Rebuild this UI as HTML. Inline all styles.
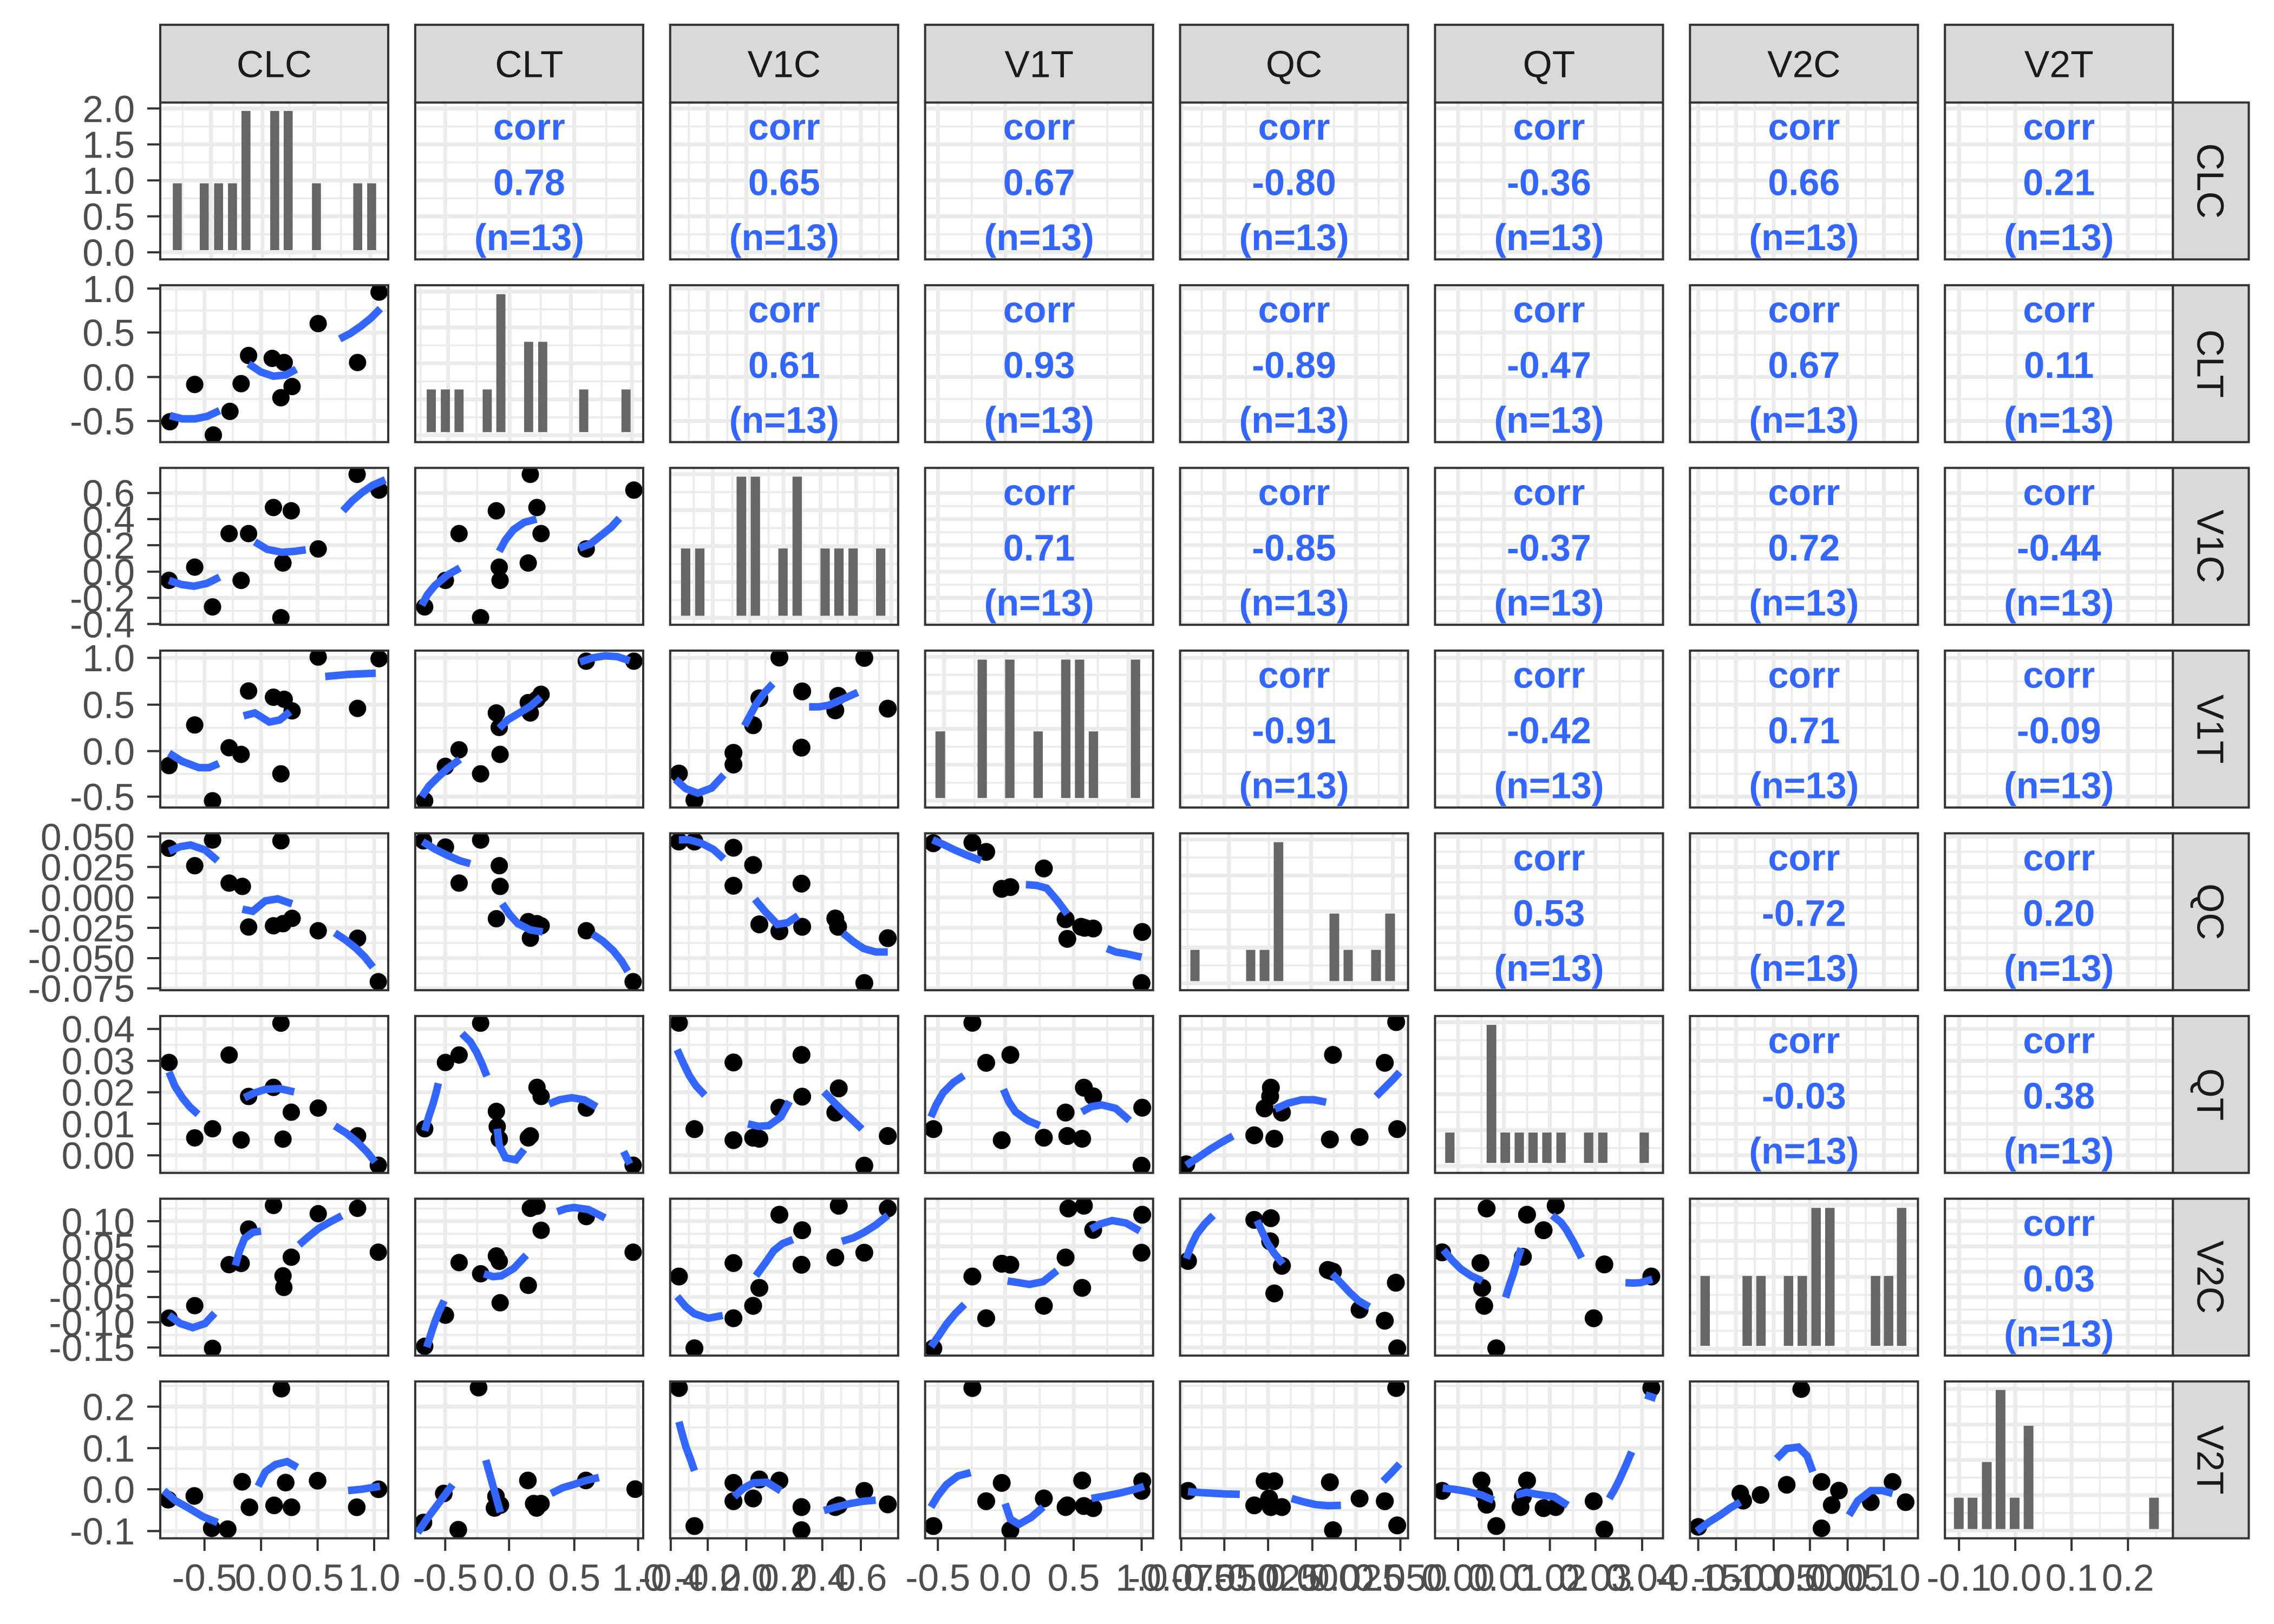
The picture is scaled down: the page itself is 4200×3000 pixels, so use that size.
<!DOCTYPE html>
<html><head><meta charset="utf-8"><style>
html,body{margin:0;padding:0;background:#fff}
svg{display:block}
.M{stroke:#EBEBEB;stroke-width:2.7}
.m{stroke:#EBEBEB;stroke-width:1.4}
text{font-family:"Liberation Sans",Arial,sans-serif}
.tl{font-size:26px;fill:#4D4D4D}
.st{font-size:26px;fill:#1A1A1A}
.cr{font-size:25.5px;font-weight:bold;fill:#3366FF;text-anchor:middle}
.pb{fill:none;stroke:#333;stroke-width:1.5}
.sp{fill:#D9D9D9;stroke:#333;stroke-width:1.5}
.tk{stroke:#333;stroke-width:1.5}
.bar{fill:#666}
</style></head><body>
<svg xmlns="http://www.w3.org/2000/svg" width="4200" height="3000" viewBox="0 0 1568 1120">
<rect width="1568" height="1120" fill="#fff"/>
<defs>
<clipPath id="p21"><rect x="110.5" y="196.7" width="157.2" height="108.2"/></clipPath>
<clipPath id="p31"><rect x="110.5" y="322.7" width="157.2" height="108.2"/></clipPath>
<clipPath id="p32"><rect x="286.3" y="322.7" width="157.2" height="108.2"/></clipPath>
<clipPath id="p41"><rect x="110.5" y="448.7" width="157.2" height="108.2"/></clipPath>
<clipPath id="p42"><rect x="286.3" y="448.7" width="157.2" height="108.2"/></clipPath>
<clipPath id="p43"><rect x="462.1" y="448.7" width="157.2" height="108.2"/></clipPath>
<clipPath id="p51"><rect x="110.5" y="574.7" width="157.2" height="108.2"/></clipPath>
<clipPath id="p52"><rect x="286.3" y="574.7" width="157.2" height="108.2"/></clipPath>
<clipPath id="p53"><rect x="462.1" y="574.7" width="157.2" height="108.2"/></clipPath>
<clipPath id="p54"><rect x="637.9" y="574.7" width="157.2" height="108.2"/></clipPath>
<clipPath id="p61"><rect x="110.5" y="700.7" width="157.2" height="108.2"/></clipPath>
<clipPath id="p62"><rect x="286.3" y="700.7" width="157.2" height="108.2"/></clipPath>
<clipPath id="p63"><rect x="462.1" y="700.7" width="157.2" height="108.2"/></clipPath>
<clipPath id="p64"><rect x="637.9" y="700.7" width="157.2" height="108.2"/></clipPath>
<clipPath id="p65"><rect x="813.7" y="700.7" width="157.2" height="108.2"/></clipPath>
<clipPath id="p71"><rect x="110.5" y="826.7" width="157.2" height="108.2"/></clipPath>
<clipPath id="p72"><rect x="286.3" y="826.7" width="157.2" height="108.2"/></clipPath>
<clipPath id="p73"><rect x="462.1" y="826.7" width="157.2" height="108.2"/></clipPath>
<clipPath id="p74"><rect x="637.9" y="826.7" width="157.2" height="108.2"/></clipPath>
<clipPath id="p75"><rect x="813.7" y="826.7" width="157.2" height="108.2"/></clipPath>
<clipPath id="p76"><rect x="989.5" y="826.7" width="157.2" height="108.2"/></clipPath>
<clipPath id="p81"><rect x="110.5" y="952.7" width="157.2" height="108.2"/></clipPath>
<clipPath id="p82"><rect x="286.3" y="952.7" width="157.2" height="108.2"/></clipPath>
<clipPath id="p83"><rect x="462.1" y="952.7" width="157.2" height="108.2"/></clipPath>
<clipPath id="p84"><rect x="637.9" y="952.7" width="157.2" height="108.2"/></clipPath>
<clipPath id="p85"><rect x="813.7" y="952.7" width="157.2" height="108.2"/></clipPath>
<clipPath id="p86"><rect x="989.5" y="952.7" width="157.2" height="108.2"/></clipPath>
<clipPath id="p87"><rect x="1165.3" y="952.7" width="157.2" height="108.2"/></clipPath>
</defs>

<!-- vertical grid lines per column -->
<g>
<g class="m">
<line x1="121.5" y1="70.7" x2="121.5" y2="1061"/><line x1="160.5" y1="70.7" x2="160.5" y2="1061"/><line x1="199.5" y1="70.7" x2="199.5" y2="1061"/><line x1="238.5" y1="70.7" x2="238.5" y2="1061"/>
<line x1="329" y1="70.7" x2="329" y2="1061"/><line x1="373.5" y1="70.7" x2="373.5" y2="1061"/><line x1="418" y1="70.7" x2="418" y2="1061"/>
<line x1="475" y1="70.7" x2="475" y2="1061"/><line x1="501.5" y1="70.7" x2="501.5" y2="1061"/><line x1="527.7" y1="70.7" x2="527.7" y2="1061"/><line x1="553.9" y1="70.7" x2="553.9" y2="1061"/><line x1="580" y1="70.7" x2="580" y2="1061"/><line x1="606.2" y1="70.7" x2="606.2" y2="1061"/>
<line x1="670" y1="70.7" x2="670" y2="1061"/><line x1="717" y1="70.7" x2="717" y2="1061"/><line x1="763.5" y1="70.7" x2="763.5" y2="1061"/>
<line x1="828.7" y1="70.7" x2="828.7" y2="1061"/><line x1="859.2" y1="70.7" x2="859.2" y2="1061"/><line x1="890" y1="70.7" x2="890" y2="1061"/><line x1="919.8" y1="70.7" x2="919.8" y2="1061"/><line x1="950.6" y1="70.7" x2="950.6" y2="1061"/>
<line x1="1021.5" y1="70.7" x2="1021.5" y2="1061"/><line x1="1053" y1="70.7" x2="1053" y2="1061"/><line x1="1084.6" y1="70.7" x2="1084.6" y2="1061"/><line x1="1116.8" y1="70.7" x2="1116.8" y2="1061"/>
<line x1="1184" y1="70.7" x2="1184" y2="1061"/><line x1="1210" y1="70.7" x2="1210" y2="1061"/><line x1="1235.5" y1="70.7" x2="1235.5" y2="1061"/><line x1="1261" y1="70.7" x2="1261" y2="1061"/><line x1="1286.5" y1="70.7" x2="1286.5" y2="1061"/><line x1="1311.8" y1="70.7" x2="1311.8" y2="1061"/>
<line x1="1370.2" y1="70.7" x2="1370.2" y2="1061"/><line x1="1409" y1="70.7" x2="1409" y2="1061"/><line x1="1447.9" y1="70.7" x2="1447.9" y2="1061"/><line x1="1486.7" y1="70.7" x2="1486.7" y2="1061"/>
</g>
<g class="M">
<line x1="141" y1="70.7" x2="141" y2="1061"/><line x1="180" y1="70.7" x2="180" y2="1061"/><line x1="219" y1="70.7" x2="219" y2="1061"/><line x1="258" y1="70.7" x2="258" y2="1061"/>
<line x1="307" y1="70.7" x2="307" y2="1061"/><line x1="351" y1="70.7" x2="351" y2="1061"/><line x1="396" y1="70.7" x2="396" y2="1061"/><line x1="440" y1="70.7" x2="440" y2="1061"/>
<line x1="462.5" y1="70.7" x2="462.5" y2="1061"/><line x1="488" y1="70.7" x2="488" y2="1061"/><line x1="514.6" y1="70.7" x2="514.6" y2="1061"/><line x1="540.8" y1="70.7" x2="540.8" y2="1061"/><line x1="567" y1="70.7" x2="567" y2="1061"/><line x1="593.6" y1="70.7" x2="593.6" y2="1061"/>
<line x1="646.7" y1="70.7" x2="646.7" y2="1061"/><line x1="693.1" y1="70.7" x2="693.1" y2="1061"/><line x1="740.3" y1="70.7" x2="740.3" y2="1061"/><line x1="787.2" y1="70.7" x2="787.2" y2="1061"/>
<line x1="814.5" y1="70.7" x2="814.5" y2="1061"/><line x1="844.2" y1="70.7" x2="844.2" y2="1061"/><line x1="874.4" y1="70.7" x2="874.4" y2="1061"/><line x1="904.9" y1="70.7" x2="904.9" y2="1061"/><line x1="934.9" y1="70.7" x2="934.9" y2="1061"/><line x1="965.6" y1="70.7" x2="965.6" y2="1061"/>
<line x1="1005.4" y1="70.7" x2="1005.4" y2="1061"/><line x1="1037" y1="70.7" x2="1037" y2="1061"/><line x1="1068.7" y1="70.7" x2="1068.7" y2="1061"/><line x1="1100.1" y1="70.7" x2="1100.1" y2="1061"/><line x1="1132.3" y1="70.7" x2="1132.3" y2="1061"/>
<line x1="1171" y1="70.7" x2="1171" y2="1061"/><line x1="1197" y1="70.7" x2="1197" y2="1061"/><line x1="1223" y1="70.7" x2="1223" y2="1061"/><line x1="1248" y1="70.7" x2="1248" y2="1061"/><line x1="1274" y1="70.7" x2="1274" y2="1061"/><line x1="1299" y1="70.7" x2="1299" y2="1061"/>
<line x1="1350.8" y1="70.7" x2="1350.8" y2="1061"/><line x1="1389.6" y1="70.7" x2="1389.6" y2="1061"/><line x1="1428.4" y1="70.7" x2="1428.4" y2="1061"/><line x1="1467.3" y1="70.7" x2="1467.3" y2="1061"/>
</g>
<!-- horizontal grid lines per row -->
<g class="m">
<line x1="110.5" y1="87.2" x2="1498.3" y2="87.2"/><line x1="110.5" y1="112" x2="1498.3" y2="112"/><line x1="110.5" y1="136.8" x2="1498.3" y2="136.8"/><line x1="110.5" y1="161.6" x2="1498.3" y2="161.6"/>
<line x1="110.5" y1="214.2" x2="1498.3" y2="214.2"/><line x1="110.5" y1="244.7" x2="1498.3" y2="244.7"/><line x1="110.5" y1="275.2" x2="1498.3" y2="275.2"/>
<line x1="110.5" y1="349" x2="1498.3" y2="349"/><line x1="110.5" y1="367" x2="1498.3" y2="367"/><line x1="110.5" y1="385" x2="1498.3" y2="385"/><line x1="110.5" y1="403.3" x2="1498.3" y2="403.3"/><line x1="110.5" y1="421.3" x2="1498.3" y2="421.3"/>
<line x1="110.5" y1="469.9" x2="1498.3" y2="469.9"/><line x1="110.5" y1="502" x2="1498.3" y2="502"/><line x1="110.5" y1="533.7" x2="1498.3" y2="533.7"/>
<line x1="110.5" y1="587.5" x2="1498.3" y2="587.5"/><line x1="110.5" y1="608.5" x2="1498.3" y2="608.5"/><line x1="110.5" y1="629.5" x2="1498.3" y2="629.5"/><line x1="110.5" y1="650.4" x2="1498.3" y2="650.4"/><line x1="110.5" y1="671.2" x2="1498.3" y2="671.2"/>
<line x1="110.5" y1="720.6" x2="1498.3" y2="720.6"/><line x1="110.5" y1="742.5" x2="1498.3" y2="742.5"/><line x1="110.5" y1="764.2" x2="1498.3" y2="764.2"/><line x1="110.5" y1="785.9" x2="1498.3" y2="785.9"/><line x1="110.5" y1="807.4" x2="1498.3" y2="807.4"/>
<line x1="110.5" y1="833.5" x2="1498.3" y2="833.5"/><line x1="110.5" y1="850.9" x2="1498.3" y2="850.9"/><line x1="110.5" y1="868.3" x2="1498.3" y2="868.3"/><line x1="110.5" y1="885.8" x2="1498.3" y2="885.8"/><line x1="110.5" y1="903.2" x2="1498.3" y2="903.2"/><line x1="110.5" y1="920.6" x2="1498.3" y2="920.6"/>
<line x1="110.5" y1="955.8" x2="1498.3" y2="955.8"/><line x1="110.5" y1="984.4" x2="1498.3" y2="984.4"/><line x1="110.5" y1="1012.9" x2="1498.3" y2="1012.9"/><line x1="110.5" y1="1041.5" x2="1498.3" y2="1041.5"/>
</g>
<g class="M">
<line x1="110.5" y1="74.8" x2="1498.3" y2="74.8"/><line x1="110.5" y1="99.6" x2="1498.3" y2="99.6"/><line x1="110.5" y1="124.4" x2="1498.3" y2="124.4"/><line x1="110.5" y1="149.2" x2="1498.3" y2="149.2"/><line x1="110.5" y1="174" x2="1498.3" y2="174"/>
<line x1="110.5" y1="199" x2="1498.3" y2="199"/><line x1="110.5" y1="229.3" x2="1498.3" y2="229.3"/><line x1="110.5" y1="260" x2="1498.3" y2="260"/><line x1="110.5" y1="290.3" x2="1498.3" y2="290.3"/>
<line x1="110.5" y1="340" x2="1498.3" y2="340"/><line x1="110.5" y1="358" x2="1498.3" y2="358"/><line x1="110.5" y1="376" x2="1498.3" y2="376"/><line x1="110.5" y1="394.3" x2="1498.3" y2="394.3"/><line x1="110.5" y1="412.3" x2="1498.3" y2="412.3"/><line x1="110.5" y1="430.3" x2="1498.3" y2="430.3"/>
<line x1="110.5" y1="453.7" x2="1498.3" y2="453.7"/><line x1="110.5" y1="486" x2="1498.3" y2="486"/><line x1="110.5" y1="518" x2="1498.3" y2="518"/><line x1="110.5" y1="549.4" x2="1498.3" y2="549.4"/>
<line x1="110.5" y1="577" x2="1498.3" y2="577"/><line x1="110.5" y1="597.9" x2="1498.3" y2="597.9"/><line x1="110.5" y1="619" x2="1498.3" y2="619"/><line x1="110.5" y1="639.9" x2="1498.3" y2="639.9"/><line x1="110.5" y1="660.8" x2="1498.3" y2="660.8"/><line x1="110.5" y1="681.6" x2="1498.3" y2="681.6"/>
<line x1="110.5" y1="709.6" x2="1498.3" y2="709.6"/><line x1="110.5" y1="731.6" x2="1498.3" y2="731.6"/><line x1="110.5" y1="753.3" x2="1498.3" y2="753.3"/><line x1="110.5" y1="775" x2="1498.3" y2="775"/><line x1="110.5" y1="796.8" x2="1498.3" y2="796.8"/>
<line x1="110.5" y1="842.2" x2="1498.3" y2="842.2"/><line x1="110.5" y1="859.6" x2="1498.3" y2="859.6"/><line x1="110.5" y1="877" x2="1498.3" y2="877"/><line x1="110.5" y1="894.5" x2="1498.3" y2="894.5"/><line x1="110.5" y1="911.9" x2="1498.3" y2="911.9"/><line x1="110.5" y1="929.3" x2="1498.3" y2="929.3"/>
<line x1="110.5" y1="970.1" x2="1498.3" y2="970.1"/><line x1="110.5" y1="998.7" x2="1498.3" y2="998.7"/><line x1="110.5" y1="1027.1" x2="1498.3" y2="1027.1"/><line x1="110.5" y1="1055.9" x2="1498.3" y2="1055.9"/>
</g>
</g>

<!-- gaps -->
<g fill="#fff">
<rect x="267.7" y="60" width="18.6" height="1010"/><rect x="443.5" y="60" width="18.6" height="1010"/><rect x="619.3" y="60" width="18.6" height="1010"/><rect x="795.1" y="60" width="18.6" height="1010"/><rect x="970.9" y="60" width="18.6" height="1010"/><rect x="1146.7" y="60" width="18.6" height="1010"/><rect x="1322.5" y="60" width="18.6" height="1010"/>
<rect x="100" y="178.9" width="1410" height="17.8"/><rect x="100" y="304.9" width="1410" height="17.8"/><rect x="100" y="430.9" width="1410" height="17.8"/><rect x="100" y="556.9" width="1410" height="17.8"/><rect x="100" y="682.9" width="1410" height="17.8"/><rect x="100" y="808.9" width="1410" height="17.8"/><rect x="100" y="934.9" width="1410" height="17.8"/>
</g>

<!-- histogram panel overlays -->
<g>
<!-- H1 -->
<rect x="110.5" y="70.7" width="157.2" height="108.2" fill="#fff"/>
<g class="m"><line x1="126" y1="70.7" x2="126" y2="178.9"/><line x1="161" y1="70.7" x2="161" y2="178.9"/><line x1="199.6" y1="70.7" x2="199.6" y2="178.9"/><line x1="235.2" y1="70.7" x2="235.2" y2="178.9"/>
<line x1="110.5" y1="87.2" x2="267.7" y2="87.2"/><line x1="110.5" y1="112" x2="267.7" y2="112"/><line x1="110.5" y1="136.8" x2="267.7" y2="136.8"/><line x1="110.5" y1="161.6" x2="267.7" y2="161.6"/></g>
<g class="M"><line x1="145.5" y1="70.7" x2="145.5" y2="178.9"/><line x1="181" y1="70.7" x2="181" y2="178.9"/><line x1="216.7" y1="70.7" x2="216.7" y2="178.9"/><line x1="255.3" y1="70.7" x2="255.3" y2="178.9"/>
<line x1="110.5" y1="74.8" x2="267.7" y2="74.8"/><line x1="110.5" y1="99.6" x2="267.7" y2="99.6"/><line x1="110.5" y1="124.4" x2="267.7" y2="124.4"/><line x1="110.5" y1="149.2" x2="267.7" y2="149.2"/><line x1="110.5" y1="174" x2="267.7" y2="174"/></g>
<!-- H2 -->
<rect x="286.3" y="196.7" width="157.2" height="108.2" fill="#fff"/>
<g class="m"><line x1="290" y1="196.7" x2="290" y2="304.9"/><line x1="328.5" y1="196.7" x2="328.5" y2="304.9"/><line x1="372.8" y1="196.7" x2="372.8" y2="304.9"/><line x1="414.8" y1="196.7" x2="414.8" y2="304.9"/>
<line x1="286.3" y1="213.4" x2="443.5" y2="213.4"/><line x1="286.3" y1="238.2" x2="443.5" y2="238.2"/><line x1="286.3" y1="263" x2="443.5" y2="263"/><line x1="286.3" y1="287.8" x2="443.5" y2="287.8"/></g>
<g class="M"><line x1="309" y1="196.7" x2="309" y2="304.9"/><line x1="351.4" y1="196.7" x2="351.4" y2="304.9"/><line x1="393.7" y1="196.7" x2="393.7" y2="304.9"/><line x1="435.7" y1="196.7" x2="435.7" y2="304.9"/>
<line x1="286.3" y1="201" x2="443.5" y2="201"/><line x1="286.3" y1="225.8" x2="443.5" y2="225.8"/><line x1="286.3" y1="250.6" x2="443.5" y2="250.6"/><line x1="286.3" y1="275.4" x2="443.5" y2="275.4"/><line x1="286.3" y1="300.2" x2="443.5" y2="300.2"/></g>
<!-- H3 -->
<rect x="462.1" y="322.7" width="157.2" height="108.2" fill="#fff"/>
<g class="m"><line x1="478.4" y1="322.7" x2="478.4" y2="430.9"/><line x1="505" y1="322.7" x2="505" y2="430.9"/><line x1="530" y1="322.7" x2="530" y2="430.9"/><line x1="552.7" y1="322.7" x2="552.7" y2="430.9"/><line x1="577.7" y1="322.7" x2="577.7" y2="430.9"/><line x1="602.7" y1="322.7" x2="602.7" y2="430.9"/>
<line x1="462.1" y1="339.4" x2="619.3" y2="339.4"/><line x1="462.1" y1="364.2" x2="619.3" y2="364.2"/><line x1="462.1" y1="389" x2="619.3" y2="389"/><line x1="462.1" y1="413.8" x2="619.3" y2="413.8"/></g>
<g class="M"><line x1="491.5" y1="322.7" x2="491.5" y2="430.9"/><line x1="517" y1="322.7" x2="517" y2="430.9"/><line x1="540.3" y1="322.7" x2="540.3" y2="430.9"/><line x1="565.8" y1="322.7" x2="565.8" y2="430.9"/><line x1="590.3" y1="322.7" x2="590.3" y2="430.9"/><line x1="614.6" y1="322.7" x2="614.6" y2="430.9"/>
<line x1="462.1" y1="327" x2="619.3" y2="327"/><line x1="462.1" y1="351.8" x2="619.3" y2="351.8"/><line x1="462.1" y1="376.6" x2="619.3" y2="376.6"/><line x1="462.1" y1="401.4" x2="619.3" y2="401.4"/><line x1="462.1" y1="426.2" x2="619.3" y2="426.2"/></g>
<!-- H4 -->
<rect x="637.9" y="448.7" width="157.2" height="108.2" fill="#fff"/>
<g class="m"><line x1="672" y1="448.7" x2="672" y2="556.9"/><line x1="715" y1="448.7" x2="715" y2="556.9"/><line x1="757" y1="448.7" x2="757" y2="556.9"/>
<line x1="637.9" y1="465.4" x2="795.1" y2="465.4"/><line x1="637.9" y1="490.2" x2="795.1" y2="490.2"/><line x1="637.9" y1="515" x2="795.1" y2="515"/><line x1="637.9" y1="539.8" x2="795.1" y2="539.8"/></g>
<g class="M"><line x1="651" y1="448.7" x2="651" y2="556.9"/><line x1="693.5" y1="448.7" x2="693.5" y2="556.9"/><line x1="736" y1="448.7" x2="736" y2="556.9"/><line x1="778" y1="448.7" x2="778" y2="556.9"/>
<line x1="637.9" y1="453" x2="795.1" y2="453"/><line x1="637.9" y1="477.8" x2="795.1" y2="477.8"/><line x1="637.9" y1="502.6" x2="795.1" y2="502.6"/><line x1="637.9" y1="527.4" x2="795.1" y2="527.4"/><line x1="637.9" y1="552.2" x2="795.1" y2="552.2"/></g>
<!-- H5 -->
<rect x="813.7" y="574.7" width="157.2" height="108.2" fill="#fff"/>
<g class="m"><line x1="818.9" y1="574.7" x2="818.9" y2="682.9"/><line x1="875" y1="574.7" x2="875" y2="682.9"/><line x1="932.3" y1="574.7" x2="932.3" y2="682.9"/>
<line x1="813.7" y1="591.4" x2="970.9" y2="591.4"/><line x1="813.7" y1="616.2" x2="970.9" y2="616.2"/><line x1="813.7" y1="641" x2="970.9" y2="641"/><line x1="813.7" y1="665.8" x2="970.9" y2="665.8"/></g>
<g class="M"><line x1="847.4" y1="574.7" x2="847.4" y2="682.9"/><line x1="904" y1="574.7" x2="904" y2="682.9"/><line x1="960.4" y1="574.7" x2="960.4" y2="682.9"/>
<line x1="813.7" y1="579" x2="970.9" y2="579"/><line x1="813.7" y1="603.8" x2="970.9" y2="603.8"/><line x1="813.7" y1="628.6" x2="970.9" y2="628.6"/><line x1="813.7" y1="653.4" x2="970.9" y2="653.4"/><line x1="813.7" y1="678.2" x2="970.9" y2="678.2"/></g>
<!-- H6 -->
<rect x="989.5" y="700.7" width="157.2" height="108.2" fill="#fff"/>
<g class="m"><line x1="1021.5" y1="700.7" x2="1021.5" y2="808.9"/><line x1="1053" y1="700.7" x2="1053" y2="808.9"/><line x1="1084.6" y1="700.7" x2="1084.6" y2="808.9"/><line x1="1116.8" y1="700.7" x2="1116.8" y2="808.9"/>
<line x1="989.5" y1="717.4" x2="1146.7" y2="717.4"/><line x1="989.5" y1="742.2" x2="1146.7" y2="742.2"/><line x1="989.5" y1="767" x2="1146.7" y2="767"/><line x1="989.5" y1="791.8" x2="1146.7" y2="791.8"/></g>
<g class="M"><line x1="1005.4" y1="700.7" x2="1005.4" y2="808.9"/><line x1="1037" y1="700.7" x2="1037" y2="808.9"/><line x1="1068.7" y1="700.7" x2="1068.7" y2="808.9"/><line x1="1100.1" y1="700.7" x2="1100.1" y2="808.9"/><line x1="1132.3" y1="700.7" x2="1132.3" y2="808.9"/>
<line x1="989.5" y1="705" x2="1146.7" y2="705"/><line x1="989.5" y1="729.8" x2="1146.7" y2="729.8"/><line x1="989.5" y1="754.6" x2="1146.7" y2="754.6"/><line x1="989.5" y1="779.4" x2="1146.7" y2="779.4"/><line x1="989.5" y1="804.2" x2="1146.7" y2="804.2"/></g>
<!-- H7 -->
<rect x="1165.3" y="826.7" width="157.2" height="108.2" fill="#fff"/>
<g class="m"><line x1="1184" y1="826.7" x2="1184" y2="934.9"/><line x1="1210" y1="826.7" x2="1210" y2="934.9"/><line x1="1235.5" y1="826.7" x2="1235.5" y2="934.9"/><line x1="1261" y1="826.7" x2="1261" y2="934.9"/><line x1="1286.5" y1="826.7" x2="1286.5" y2="934.9"/><line x1="1311.8" y1="826.7" x2="1311.8" y2="934.9"/>
<line x1="1165.3" y1="843.4" x2="1322.5" y2="843.4"/><line x1="1165.3" y1="868.2" x2="1322.5" y2="868.2"/><line x1="1165.3" y1="893" x2="1322.5" y2="893"/><line x1="1165.3" y1="917.8" x2="1322.5" y2="917.8"/></g>
<g class="M"><line x1="1171" y1="826.7" x2="1171" y2="934.9"/><line x1="1197" y1="826.7" x2="1197" y2="934.9"/><line x1="1223" y1="826.7" x2="1223" y2="934.9"/><line x1="1248" y1="826.7" x2="1248" y2="934.9"/><line x1="1274" y1="826.7" x2="1274" y2="934.9"/><line x1="1299" y1="826.7" x2="1299" y2="934.9"/>
<line x1="1165.3" y1="831" x2="1322.5" y2="831"/><line x1="1165.3" y1="855.8" x2="1322.5" y2="855.8"/><line x1="1165.3" y1="880.6" x2="1322.5" y2="880.6"/><line x1="1165.3" y1="905.4" x2="1322.5" y2="905.4"/><line x1="1165.3" y1="930.2" x2="1322.5" y2="930.2"/></g>
<!-- H8 -->
<rect x="1341.1" y="952.7" width="157.2" height="108.2" fill="#fff"/>
<g class="m"><line x1="1370.2" y1="952.7" x2="1370.2" y2="1060.9"/><line x1="1409" y1="952.7" x2="1409" y2="1060.9"/><line x1="1447.9" y1="952.7" x2="1447.9" y2="1060.9"/><line x1="1486.7" y1="952.7" x2="1486.7" y2="1060.9"/>
<line x1="1341.1" y1="970" x2="1498.3" y2="970"/><line x1="1341.1" y1="994.6" x2="1498.3" y2="994.6"/><line x1="1341.1" y1="1019" x2="1498.3" y2="1019"/><line x1="1341.1" y1="1043.4" x2="1498.3" y2="1043.4"/></g>
<g class="M"><line x1="1350.8" y1="952.7" x2="1350.8" y2="1060.9"/><line x1="1389.6" y1="952.7" x2="1389.6" y2="1060.9"/><line x1="1428.4" y1="952.7" x2="1428.4" y2="1060.9"/><line x1="1467.3" y1="952.7" x2="1467.3" y2="1060.9"/>
<line x1="1341.1" y1="957.9" x2="1498.3" y2="957.9"/><line x1="1341.1" y1="982.4" x2="1498.3" y2="982.4"/><line x1="1341.1" y1="1006.8" x2="1498.3" y2="1006.8"/><line x1="1341.1" y1="1031.1" x2="1498.3" y2="1031.1"/><line x1="1341.1" y1="1055.5" x2="1498.3" y2="1055.5"/></g>
</g>

<!-- histogram bars -->
<g class="bar">
<g transform="scale(0.30950,0.21427)">
<rect x="385" y="590" width="20" height="215"/><rect x="445" y="590" width="20" height="215"/><rect x="477" y="590" width="20" height="215"/><rect x="508" y="590" width="20" height="215"/><rect x="538" y="357" width="20" height="448"/><rect x="602" y="357" width="20" height="448"/><rect x="632" y="357" width="20" height="448"/><rect x="695" y="590" width="20" height="215"/><rect x="787" y="590" width="20" height="215"/><rect x="818" y="590" width="20" height="215"/>
</g>
<g transform="translate(0,186.6) scale(0.28567)">
<rect x="1030" y="287" width="22" height="103"/><rect x="1064" y="287" width="22" height="103"/><rect x="1097" y="287" width="22" height="103"/><rect x="1165" y="287" width="22" height="103"/><rect x="1198" y="57" width="22" height="333"/><rect x="1265" y="172" width="22" height="218"/><rect x="1299" y="172" width="22" height="218"/><rect x="1398" y="287" width="22" height="103"/><rect x="1500" y="287" width="22" height="103"/>
</g>
<g transform="translate(447.9,317.3) scale(0.23806)">
<rect x="91" y="256" width="27" height="195"/><rect x="132" y="256" width="27" height="195"/><rect x="252" y="48" width="28" height="403"/><rect x="293" y="48" width="27" height="403"/><rect x="373" y="256" width="27" height="195"/><rect x="414" y="48" width="27" height="403"/><rect x="495" y="256" width="27" height="195"/><rect x="535" y="256" width="27" height="195"/><rect x="576" y="256" width="27" height="195"/><rect x="656" y="256" width="27" height="195"/>
<rect x="828" y="786" width="28" height="193"/><rect x="950" y="578" width="27" height="401"/><rect x="1030" y="578" width="27" height="401"/><rect x="1112" y="786" width="27" height="193"/><rect x="1192" y="578" width="27" height="401"/><rect x="1232" y="578" width="27" height="401"/><rect x="1272" y="786" width="27" height="193"/><rect x="1394" y="578" width="27" height="401"/>
</g>
<g transform="translate(802.5,559.9) scale(0.12442)">
<rect x="147" y="765" width="51" height="173"/><rect x="456" y="765" width="51" height="173"/><rect x="531" y="765" width="54" height="173"/><rect x="609" y="168" width="53" height="770"/><rect x="918" y="564" width="54" height="374"/><rect x="996" y="765" width="51" height="173"/><rect x="1149" y="765" width="54" height="173"/><rect x="1227" y="564" width="54" height="374"/>
</g>
<g transform="translate(802.5,690.6) scale(0.23806)">
<rect x="815" y="380" width="27" height="88"/><rect x="935" y="68" width="28" height="400"/><rect x="975" y="380" width="28" height="88"/><rect x="1016" y="380" width="27" height="88"/><rect x="1056" y="380" width="27" height="88"/><rect x="1096" y="380" width="27" height="88"/><rect x="1137" y="380" width="27" height="88"/><rect x="1217" y="380" width="27" height="88"/><rect x="1258" y="380" width="27" height="88"/><rect x="1378" y="380" width="27" height="88"/>
</g>
<rect x="1172.5" y="880" width="6.5" height="48.2"/><rect x="1201.5" y="880" width="6.5" height="48.2"/><rect x="1211" y="880" width="6.5" height="48.2"/><rect x="1230" y="880" width="6.5" height="48.2"/><rect x="1239.5" y="880" width="6.5" height="48.2"/><rect x="1249" y="833" width="6.5" height="95.2"/><rect x="1258.5" y="833" width="6.5" height="95.2"/><rect x="1290" y="880" width="6.5" height="48.2"/><rect x="1299" y="880" width="6.5" height="48.2"/><rect x="1308" y="833" width="6.5" height="95.2"/>
<rect x="1347.3" y="1032.9" width="6.7" height="21.6"/><rect x="1356.8" y="1032.9" width="6.7" height="21.6"/><rect x="1366.6" y="1008.3" width="6.7" height="46.2"/><rect x="1376.1" y="958.6" width="6.7" height="95.9"/><rect x="1385.8" y="1032.9" width="6.7" height="21.6"/><rect x="1395.4" y="983.3" width="6.7" height="71.2"/><rect x="1481.9" y="1032.9" width="6.7" height="21.6"/>
</g>

<!-- scatter panels: zoom3 coords -->
<g fill="#000">
<g clip-path="url(#p21)"><g transform="translate(0,186.6) scale(0.28567)">
<circle cx="410" cy="365" r="21"/><circle cx="470" cy="275" r="21"/><circle cx="515" cy="397" r="21"/><circle cx="555" cy="340" r="21"/><circle cx="582" cy="273" r="21"/><circle cx="600" cy="205" r="21"/><circle cx="657" cy="212" r="21"/><circle cx="686" cy="222" r="21"/><circle cx="705" cy="280" r="21"/><circle cx="678" cy="307" r="21"/><circle cx="768" cy="128" r="21"/><circle cx="863" cy="222" r="21"/><circle cx="915" cy="52" r="21"/>
<g fill="none" stroke="#3366FF" stroke-width="18.2"><polyline points="410,350 440,358 470,358 500,352 530,338"/><polyline points="600,225 630,245 660,255 690,252 715,238"/><polyline points="820,165 845,152 870,135 895,115 918,92"/></g>
</g></g>
<g clip-path="url(#p31)"><g transform="translate(0,186.6) scale(0.28567)">
<circle cx="408" cy="748" r="21"/><circle cx="470" cy="716" r="21"/><circle cx="513" cy="812" r="21"/><circle cx="553" cy="635" r="21"/><circle cx="582" cy="748" r="21"/><circle cx="600" cy="635" r="21"/><circle cx="660" cy="572" r="21"/><circle cx="703" cy="580" r="21"/><circle cx="683" cy="706" r="21"/><circle cx="678" cy="838" r="21"/><circle cx="768" cy="672" r="21"/><circle cx="862" cy="492" r="21"/><circle cx="915" cy="530" r="21"/>
<g fill="none" stroke="#3366FF" stroke-width="18.2"><polyline points="408,748 438,758 468,762 500,755 530,740"/><polyline points="615,655 645,673 680,680 710,678 738,674"/><polyline points="828,580 850,556 875,535 900,518 930,505"/></g>
</g></g>
<g clip-path="url(#p32)"><g transform="translate(0,186.6) scale(0.28567)">
<circle cx="1025" cy="812" r="21"/><circle cx="1075" cy="748" r="21"/><circle cx="1108" cy="635" r="21"/><circle cx="1160" cy="838" r="21"/><circle cx="1198" cy="580" r="21"/><circle cx="1205" cy="716" r="21"/><circle cx="1207" cy="748" r="21"/><circle cx="1275" cy="706" r="21"/><circle cx="1280" cy="492" r="21"/><circle cx="1296" cy="572" r="21"/><circle cx="1306" cy="635" r="21"/><circle cx="1415" cy="672" r="21"/><circle cx="1530" cy="530" r="21"/>
<g fill="none" stroke="#3366FF" stroke-width="18.2"><polyline points="1018,808 1032,782 1050,760 1080,735 1110,718"/><polyline points="1205,678 1220,650 1240,625 1265,608 1295,600"/><polyline points="1398,670 1425,660 1450,640 1475,620 1495,598"/></g>
</g></g>
<g clip-path="url(#p41)"><g transform="translate(0,186.6) scale(0.28567)">
<circle cx="408" cy="1195" r="21"/><circle cx="470" cy="1097" r="21"/><circle cx="513" cy="1280" r="21"/><circle cx="553" cy="1152" r="21"/><circle cx="582" cy="1168" r="21"/><circle cx="600" cy="1015" r="21"/><circle cx="660" cy="1030" r="21"/><circle cx="686" cy="1035" r="21"/><circle cx="705" cy="1063" r="21"/><circle cx="678" cy="1215" r="21"/><circle cx="768" cy="933" r="21"/><circle cx="863" cy="1057" r="21"/><circle cx="915" cy="937" r="21"/>
<g fill="none" stroke="#3366FF" stroke-width="18.2"><polyline points="408,1165 440,1185 480,1200 505,1200 528,1190"/><polyline points="588,1075 615,1068 650,1090 675,1085 700,1065"/><polyline points="785,980 840,975 907,972"/></g>
</g></g>
<g clip-path="url(#p42)"><g transform="translate(0,186.6) scale(0.28567)">
<circle cx="1025" cy="1280" r="21"/><circle cx="1075" cy="1197" r="21"/><circle cx="1108" cy="1157" r="21"/><circle cx="1160" cy="1215" r="21"/><circle cx="1198" cy="1068" r="21"/><circle cx="1205" cy="1103" r="21"/><circle cx="1207" cy="1168" r="21"/><circle cx="1275" cy="1043" r="21"/><circle cx="1280" cy="1068" r="21"/><circle cx="1296" cy="1035" r="21"/><circle cx="1306" cy="1023" r="21"/><circle cx="1415" cy="943" r="21"/><circle cx="1530" cy="943" r="21"/>
<g fill="none" stroke="#3366FF" stroke-width="18.2"><polyline points="1018,1270 1035,1245 1055,1225 1080,1202 1110,1180"/><polyline points="1205,1105 1225,1085 1250,1070 1280,1052 1305,1030"/><polyline points="1400,945 1430,935 1460,930 1490,932 1520,942"/></g>
</g></g>

<!-- zoom4 coords -->
<g clip-path="url(#p51)"><g transform="translate(0,559.9) scale(0.28571)">
<circle cx="408" cy="88" r="21"/><circle cx="470" cy="130" r="21"/><circle cx="513" cy="68" r="21"/><circle cx="553" cy="172" r="21"/><circle cx="585" cy="180" r="21"/><circle cx="600" cy="278" r="21"/><circle cx="660" cy="275" r="21"/><circle cx="683" cy="270" r="21"/><circle cx="705" cy="257" r="21"/><circle cx="678" cy="70" r="21"/><circle cx="768" cy="287" r="21"/><circle cx="863" cy="305" r="21"/><circle cx="913" cy="410" r="21"/>
<g fill="none" stroke="#3366FF" stroke-width="18.2"><polyline points="408,95 435,84 460,80 495,92 525,118"/><polyline points="585,235 610,240 640,215 670,210 705,222"/><polyline points="808,292 835,310 860,330 880,350 900,375"/></g>
</g></g>
<g clip-path="url(#p52)"><g transform="translate(0,559.9) scale(0.28571)">
<circle cx="1022" cy="70" r="21"/><circle cx="1075" cy="85" r="21"/><circle cx="1108" cy="172" r="21"/><circle cx="1160" cy="68" r="21"/><circle cx="1198" cy="258" r="21"/><circle cx="1205" cy="130" r="21"/><circle cx="1207" cy="180" r="21"/><circle cx="1280" cy="305" r="21"/><circle cx="1296" cy="270" r="21"/><circle cx="1306" cy="275" r="21"/><circle cx="1275" cy="265" r="21"/><circle cx="1415" cy="287" r="21"/><circle cx="1528" cy="410" r="21"/>
<g fill="none" stroke="#3366FF" stroke-width="18.2"><polyline points="1020,72 1050,90 1080,105 1110,118 1135,125"/><polyline points="1212,222 1230,248 1250,270 1280,285 1310,290"/><polyline points="1430,295 1455,312 1480,335 1500,360 1515,385"/></g>
</g></g>
<g clip-path="url(#p61)"><g transform="translate(0,559.9) scale(0.28571)">
<circle cx="408" cy="605" r="21"/><circle cx="470" cy="787" r="21"/><circle cx="513" cy="765" r="21"/><circle cx="553" cy="587" r="21"/><circle cx="582" cy="792" r="21"/><circle cx="600" cy="687" r="21"/><circle cx="660" cy="665" r="21"/><circle cx="683" cy="790" r="21"/><circle cx="703" cy="725" r="21"/><circle cx="678" cy="510" r="21"/><circle cx="768" cy="715" r="21"/><circle cx="863" cy="782" r="21"/><circle cx="913" cy="853" r="21"/>
<g fill="none" stroke="#3366FF" stroke-width="18.2"><polyline points="408,628 422,662 440,690 458,712 478,730"/><polyline points="590,690 615,678 640,670 675,668 710,676"/><polyline points="808,758 835,775 860,795 885,820 905,845"/></g>
</g></g>
<g clip-path="url(#p62)"><g transform="translate(0,559.9) scale(0.28571)">
<circle cx="1025" cy="765" r="21"/><circle cx="1075" cy="605" r="21"/><circle cx="1108" cy="587" r="21"/><circle cx="1160" cy="510" r="21"/><circle cx="1198" cy="723" r="21"/><circle cx="1205" cy="790" r="21"/><circle cx="1275" cy="787" r="21"/><circle cx="1280" cy="782" r="21"/><circle cx="1296" cy="665" r="21"/><circle cx="1306" cy="687" r="21"/><circle cx="1415" cy="715" r="21"/><circle cx="1528" cy="853" r="21"/><circle cx="1200" cy="760" r="21"/>
<g fill="none" stroke="#3366FF" stroke-width="18.2"><polyline points="1025,770 1035,735 1045,705 1052,680 1058,655"/><polyline points="1115,535 1135,555 1150,580 1163,608 1175,638"/><polyline points="1200,765 1205,805 1220,835 1245,840 1265,815"/><polyline points="1325,705 1350,695 1380,690 1410,695 1440,712"/><polyline points="1505,820 1520,850"/></g>
</g></g>
<g clip-path="url(#p71)"><g transform="translate(0,559.9) scale(0.28571)">
<circle cx="408" cy="1222" r="21"/><circle cx="470" cy="1192" r="21"/><circle cx="513" cy="1295" r="21"/><circle cx="553" cy="1093" r="21"/><circle cx="582" cy="1090" r="21"/><circle cx="600" cy="1007" r="21"/><circle cx="660" cy="950" r="21"/><circle cx="683" cy="1120" r="21"/><circle cx="685" cy="1148" r="21"/><circle cx="703" cy="1075" r="21"/><circle cx="768" cy="970" r="21"/><circle cx="863" cy="957" r="21"/><circle cx="913" cy="1063" r="21"/>
<g fill="none" stroke="#3366FF" stroke-width="18.2"><polyline points="408,1215 435,1235 465,1245 495,1235 518,1210"/><polyline points="568,1095 578,1060 590,1030 610,1015 630,1012"/><polyline points="722,1045 745,1025 770,1005 800,988 825,975"/></g>
</g></g>
<g clip-path="url(#p72)"><g transform="translate(0,559.9) scale(0.28571)">
<circle cx="1025" cy="1290" r="21"/><circle cx="1075" cy="1215" r="21"/><circle cx="1108" cy="1088" r="21"/><circle cx="1160" cy="1115" r="21"/><circle cx="1198" cy="1072" r="21"/><circle cx="1205" cy="1085" r="21"/><circle cx="1207" cy="1185" r="21"/><circle cx="1275" cy="1143" r="21"/><circle cx="1280" cy="957" r="21"/><circle cx="1296" cy="952" r="21"/><circle cx="1306" cy="1010" r="21"/><circle cx="1415" cy="977" r="21"/><circle cx="1528" cy="1063" r="21"/>
<g fill="none" stroke="#3366FF" stroke-width="18.2"><polyline points="1030,1292 1040,1260 1050,1230 1060,1205 1072,1180"/><polyline points="1168,1115 1190,1122 1210,1120 1240,1102 1270,1070"/><polyline points="1345,965 1365,958 1385,955 1420,960 1460,980"/></g>
</g></g>

<!-- zoom5 coords -->
<g clip-path="url(#p43)"><g transform="translate(447.9,317.3) scale(0.23806)">
<circle cx="85" cy="908" r="26"/><circle cx="130" cy="985" r="26"/><circle cx="243" cy="848" r="26"/><circle cx="243" cy="882" r="26"/><circle cx="300" cy="768" r="26"/><circle cx="318" cy="690" r="26"/><circle cx="376" cy="572" r="26"/><circle cx="442" cy="670" r="26"/><circle cx="440" cy="833" r="26"/><circle cx="538" cy="725" r="26"/><circle cx="546" cy="683" r="26"/><circle cx="622" cy="573" r="26"/><circle cx="690" cy="720" r="26"/>
<g fill="none" stroke="#3366FF" stroke-width="21.8"><polyline points="75,925 105,952 140,965 180,950 215,912"/><polyline points="275,770 292,738 310,705 332,675 357,648"/><polyline points="462,715 490,715 520,710 560,692 603,673"/></g>
</g></g>
<g clip-path="url(#p53)"><g transform="translate(447.9,317.3) scale(0.23806)">
<circle cx="85" cy="1105" r="26"/><circle cx="130" cy="1105" r="26"/><circle cx="243" cy="1123" r="26"/><circle cx="243" cy="1233" r="26"/><circle cx="300" cy="1173" r="26"/><circle cx="318" cy="1345" r="26"/><circle cx="376" cy="1365" r="26"/><circle cx="440" cy="1227" r="26"/><circle cx="442" cy="1352" r="26"/><circle cx="538" cy="1328" r="26"/><circle cx="546" cy="1352" r="26"/><circle cx="622" cy="1515" r="26"/><circle cx="690" cy="1385" r="26"/>
<g fill="none" stroke="#3366FF" stroke-width="21.8"><polyline points="85,1100 115,1100 150,1110 185,1128 215,1155"/><polyline points="305,1272 335,1308 370,1345 400,1340 430,1320"/><polyline points="560,1370 590,1395 620,1415 655,1425 690,1425"/></g>
</g></g>
<g clip-path="url(#p54)"><g transform="translate(447.9,317.3) scale(0.23806)">
<circle cx="822" cy="1110" r="26"/><circle cx="935" cy="1108" r="26"/><circle cx="975" cy="1135" r="26"/><circle cx="1020" cy="1242" r="26"/><circle cx="1045" cy="1237" r="26"/><circle cx="1142" cy="1183" r="26"/><circle cx="1205" cy="1330" r="26"/><circle cx="1210" cy="1387" r="26"/><circle cx="1250" cy="1352" r="26"/><circle cx="1285" cy="1357" r="26"/><circle cx="1260" cy="1355" r="26"/><circle cx="1427" cy="1367" r="26"/><circle cx="1425" cy="1515" r="26"/>
<g fill="none" stroke="#3366FF" stroke-width="21.8"><polyline points="820,1100 850,1113 885,1130 920,1145 960,1160"/><polyline points="1090,1230 1120,1232 1150,1240 1180,1275 1210,1315"/><polyline points="1325,1415 1350,1425 1380,1430 1425,1440"/></g>
</g></g>

<!-- zoom6 coords -->
<g clip-path="url(#p63)"><g transform="translate(447.9,690.6) scale(0.23806)">
<circle cx="85" cy="62" r="26"/><circle cx="130" cy="370" r="26"/><circle cx="243" cy="177" r="26"/><circle cx="243" cy="402" r="26"/><circle cx="300" cy="395" r="26"/><circle cx="318" cy="398" r="26"/><circle cx="376" cy="308" r="26"/><circle cx="440" cy="155" r="26"/><circle cx="442" cy="276" r="26"/><circle cx="538" cy="322" r="26"/><circle cx="548" cy="252" r="26"/><circle cx="622" cy="476" r="26"/><circle cx="690" cy="390" r="26"/>
<g fill="none" stroke="#3366FF" stroke-width="21.8"><polyline points="80,140 98,180 115,215 135,245 160,272"/><polyline points="285,355 315,362 345,360 380,335 405,290"/><polyline points="505,262 532,290 560,318 588,344 615,370"/></g>
</g></g>
<g clip-path="url(#p64)"><g transform="translate(447.9,690.6) scale(0.23806)">
<circle cx="822" cy="370" r="26"/><circle cx="935" cy="62" r="26"/><circle cx="975" cy="178" r="26"/><circle cx="1020" cy="402" r="26"/><circle cx="1045" cy="155" r="26"/><circle cx="1142" cy="395" r="26"/><circle cx="1205" cy="322" r="26"/><circle cx="1210" cy="390" r="26"/><circle cx="1253" cy="398" r="26"/><circle cx="1258" cy="250" r="26"/><circle cx="1285" cy="275" r="26"/><circle cx="1427" cy="308" r="26"/><circle cx="1425" cy="476" r="26"/>
<g fill="none" stroke="#3366FF" stroke-width="21.8"><polyline points="815,335 830,300 850,265 880,235 910,215"/><polyline points="1025,255 1040,290 1060,320 1095,345 1130,360"/><polyline points="1252,320 1280,305 1310,300 1350,310 1390,345"/></g>
</g></g>
<g clip-path="url(#p73)"><g transform="translate(447.9,690.6) scale(0.23806)">
<circle cx="85" cy="797" r="26"/><circle cx="130" cy="1005" r="26"/><circle cx="243" cy="758" r="26"/><circle cx="243" cy="918" r="26"/><circle cx="300" cy="882" r="26"/><circle cx="318" cy="830" r="26"/><circle cx="376" cy="618" r="26"/><circle cx="440" cy="763" r="26"/><circle cx="442" cy="663" r="26"/><circle cx="538" cy="742" r="26"/><circle cx="548" cy="592" r="26"/><circle cx="622" cy="728" r="26"/><circle cx="690" cy="600" r="26"/>
<g fill="none" stroke="#3366FF" stroke-width="21.8"><polyline points="80,855 105,885 130,905 170,918 212,910"/><polyline points="308,795 335,758 360,722 385,702 415,690"/><polyline points="557,695 590,685 620,670 655,648 690,620"/></g>
</g></g>
<g clip-path="url(#p74)"><g transform="translate(447.9,690.6) scale(0.23806)">
<circle cx="822" cy="1005" r="26"/><circle cx="935" cy="797" r="26"/><circle cx="975" cy="918" r="26"/><circle cx="1020" cy="760" r="26"/><circle cx="1045" cy="763" r="26"/><circle cx="1142" cy="882" r="26"/><circle cx="1205" cy="742" r="26"/><circle cx="1253" cy="830" r="26"/><circle cx="1213" cy="600" r="26"/><circle cx="1258" cy="592" r="26"/><circle cx="1285" cy="662" r="26"/><circle cx="1427" cy="618" r="26"/><circle cx="1425" cy="728" r="26"/>
<g fill="none" stroke="#3366FF" stroke-width="21.8"><polyline points="815,1000 838,968 860,935 885,905 912,878"/><polyline points="1037,810 1070,815 1100,820 1140,812 1180,780"/><polyline points="1278,660 1305,645 1340,635 1380,642 1420,665"/></g>
</g></g>
<g clip-path="url(#p83)"><g transform="translate(447.9,690.6) scale(0.23806)">
<circle cx="85" cy="1120" r="26"/><circle cx="130" cy="1520" r="26"/><circle cx="243" cy="1395" r="26"/><circle cx="243" cy="1448" r="26"/><circle cx="300" cy="1440" r="26"/><circle cx="318" cy="1385" r="26"/><circle cx="376" cy="1388" r="26"/><circle cx="440" cy="1465" r="26"/><circle cx="440" cy="1532" r="26"/><circle cx="538" cy="1465" r="26"/><circle cx="548" cy="1460" r="26"/><circle cx="622" cy="1418" r="26"/><circle cx="690" cy="1457" r="26"/>
<g fill="none" stroke="#3366FF" stroke-width="21.8"><polyline points="85,1218 95,1255 105,1290 118,1325 130,1360"/><polyline points="245,1435 270,1412 300,1395 340,1393 380,1418"/><polyline points="505,1475 540,1465 580,1455 620,1448 655,1445"/></g>
</g></g>
<g clip-path="url(#p84)"><g transform="translate(447.9,690.6) scale(0.23806)">
<circle cx="822" cy="1520" r="26"/><circle cx="935" cy="1120" r="26"/><circle cx="975" cy="1448" r="26"/><circle cx="1020" cy="1395" r="26"/><circle cx="1045" cy="1532" r="26"/><circle cx="1142" cy="1440" r="26"/><circle cx="1205" cy="1465" r="26"/><circle cx="1253" cy="1388" r="26"/><circle cx="1258" cy="1462" r="26"/><circle cx="1285" cy="1468" r="26"/><circle cx="1427" cy="1390" r="26"/><circle cx="1425" cy="1418" r="26"/><circle cx="1210" cy="1460" r="26"/>
<g fill="none" stroke="#3366FF" stroke-width="21.8"><polyline points="815,1465 835,1432 860,1400 893,1375 930,1365"/><polyline points="1030,1455 1045,1500 1070,1515 1105,1495 1140,1465"/><polyline points="1280,1440 1320,1433 1360,1425 1400,1415 1432,1405"/></g>
</g></g>

<!-- zoom7 coords -->
<g clip-path="url(#p65)"><g transform="translate(802.5,690.6) scale(0.23806)">
<circle cx="65" cy="472" r="26"/><circle cx="262" cy="388" r="26"/><circle cx="292" cy="310" r="26"/><circle cx="310" cy="250" r="26"/><circle cx="308" cy="275" r="26"/><circle cx="320" cy="398" r="26"/><circle cx="342" cy="322" r="26"/><circle cx="481" cy="400" r="26"/><circle cx="490" cy="155" r="26"/><circle cx="567" cy="393" r="26"/><circle cx="640" cy="178" r="26"/><circle cx="673" cy="60" r="26"/><circle cx="676" cy="370" r="26"/>
<g fill="none" stroke="#3366FF" stroke-width="21.8"><polyline points="65,475 100,452 135,428 168,408 200,390"/><polyline points="322,312 360,295 400,285 435,285 470,292"/><polyline points="615,275 630,260 645,245 665,225 683,205"/></g>
</g></g>
<g clip-path="url(#p75)"><g transform="translate(802.5,690.6) scale(0.23806)">
<circle cx="70" cy="752" r="26"/><circle cx="262" cy="633" r="26"/><circle cx="310" cy="628" r="26"/><circle cx="308" cy="695" r="26"/><circle cx="342" cy="766" r="26"/><circle cx="320" cy="846" r="26"/><circle cx="481" cy="780" r="26"/><circle cx="490" cy="783" r="26"/><circle cx="567" cy="893" r="26"/><circle cx="640" cy="925" r="26"/><circle cx="672" cy="815" r="26"/><circle cx="676" cy="1005" r="26"/><circle cx="475" cy="778" r="26"/>
<g fill="none" stroke="#3366FF" stroke-width="21.8"><polyline points="65,745 78,710 95,675 118,645 143,620"/><polyline points="270,635 285,668 300,700 320,730 345,760"/><polyline points="488,790 515,818 540,845 565,868 595,885"/></g>
</g></g>
<g clip-path="url(#p76)"><g transform="translate(802.5,690.6) scale(0.23806)">
<circle cx="806" cy="727" r="26"/><circle cx="917" cy="758" r="26"/><circle cx="922" cy="830" r="26"/><circle cx="928" cy="882" r="26"/><circle cx="935" cy="600" r="26"/><circle cx="963" cy="1005" r="26"/><circle cx="1040" cy="740" r="26"/><circle cx="1052" cy="618" r="26"/><circle cx="1100" cy="663" r="26"/><circle cx="1135" cy="592" r="26"/><circle cx="1245" cy="918" r="26"/><circle cx="1276" cy="762" r="26"/><circle cx="1412" cy="797" r="26"/>
<g fill="none" stroke="#3366FF" stroke-width="21.8"><polyline points="810,720 835,750 860,775 890,795 922,810"/><polyline points="1035,715 1023,752 1012,790 1000,825 990,858"/><polyline points="1125,620 1150,640 1165,660 1188,700 1210,743"/><polyline points="1337,815 1360,816 1380,815 1415,805"/></g>
</g></g>
<g clip-path="url(#p85)"><g transform="translate(802.5,690.6) scale(0.23806)">
<circle cx="70" cy="1418" r="26"/><circle cx="262" cy="1460" r="26"/><circle cx="292" cy="1390" r="26"/><circle cx="310" cy="1465" r="26"/><circle cx="320" cy="1390" r="26"/><circle cx="342" cy="1465" r="26"/><circle cx="481" cy="1393" r="26"/><circle cx="490" cy="1532" r="26"/><circle cx="567" cy="1440" r="26"/><circle cx="640" cy="1448" r="26"/><circle cx="673" cy="1120" r="26"/><circle cx="676" cy="1518" r="26"/><circle cx="305" cy="1440" r="26"/>
<g fill="none" stroke="#3366FF" stroke-width="21.8"><polyline points="70,1420 105,1423 140,1425 180,1427 220,1428"/><polyline points="370,1440 405,1450 440,1458 475,1461 513,1460"/><polyline points="635,1390 660,1365 683,1340"/></g>
</g></g>
<g clip-path="url(#p86)"><g transform="translate(802.5,690.6) scale(0.23806)">
<circle cx="806" cy="1418" r="26"/><circle cx="920" cy="1388" r="26"/><circle cx="935" cy="1458" r="26"/><circle cx="963" cy="1520" r="26"/><circle cx="1033" cy="1465" r="26"/><circle cx="1052" cy="1388" r="26"/><circle cx="1100" cy="1468" r="26"/><circle cx="1135" cy="1465" r="26"/><circle cx="1245" cy="1448" r="26"/><circle cx="1276" cy="1530" r="26"/><circle cx="1412" cy="1120" r="26"/><circle cx="928" cy="1430" r="26"/><circle cx="1040" cy="1435" r="26"/>
<g fill="none" stroke="#3366FF" stroke-width="21.8"><polyline points="808,1410 845,1414 880,1420 920,1430 955,1445"/><polyline points="1020,1430 1050,1422 1080,1428 1130,1435 1170,1460"/><polyline points="1290,1440 1305,1415 1320,1385 1338,1345 1355,1305"/><polyline points="1395,1140 1425,1150"/></g>
</g></g>

<!-- row 8 display coords -->
<g clip-path="url(#p81)">
<circle cx="116" cy="1034.3" r="6.1"/><circle cx="134" cy="1031.7" r="6.1"/><circle cx="146" cy="1054" r="6.1"/><circle cx="157" cy="1054.6" r="6.1"/><circle cx="167" cy="1021.9" r="6.1"/><circle cx="172" cy="1039.5" r="6.1"/><circle cx="189" cy="1038.2" r="6.1"/><circle cx="194" cy="957.7" r="6.1"/><circle cx="197" cy="1022.5" r="6.1"/><circle cx="201" cy="1039.5" r="6.1"/><circle cx="219" cy="1021.2" r="6.1"/><circle cx="246" cy="1039.5" r="6.1"/><circle cx="261" cy="1027.1" r="6.1"/>
<g fill="none" stroke="#3366FF" stroke-width="5.2"><polyline points="113,1028 121,1035 130,1040 140,1046 150,1050"/><polyline points="178,1025 183,1015 190,1010 198,1008 205,1012"/><polyline points="240,1028 250,1027 262,1025"/></g>
</g>
<g clip-path="url(#p82)">
<circle cx="292" cy="1050" r="6.1"/><circle cx="306" cy="1030" r="6.1"/><circle cx="316" cy="1055" r="6.1"/><circle cx="330" cy="957" r="6.1"/><circle cx="342" cy="1032" r="6.1"/><circle cx="345" cy="1038" r="6.1"/><circle cx="364" cy="1021" r="6.1"/><circle cx="368" cy="1037" r="6.1"/><circle cx="373" cy="1037" r="6.1"/><circle cx="404" cy="1021" r="6.1"/><circle cx="438" cy="1027" r="6.1"/><circle cx="341" cy="1040" r="6.1"/><circle cx="370" cy="1040" r="6.1"/>
<g fill="none" stroke="#3366FF" stroke-width="5.2"><polyline points="288,1057 294,1048 300,1040 306,1032 312,1024"/><polyline points="335,1007 340,1025 345,1043"/><polyline points="380,1030 388,1026 395,1024 404,1021 413,1019"/></g>
</g>
<g clip-path="url(#p87)">
<circle cx="1171" cy="1053" r="6.1"/><circle cx="1202" cy="1035" r="6.1"/><circle cx="1214" cy="1031" r="6.1"/><circle cx="1232" cy="1024" r="6.1"/><circle cx="1242" cy="958" r="6.1"/><circle cx="1256" cy="1022" r="6.1"/><circle cx="1256" cy="1054" r="6.1"/><circle cx="1263" cy="1038" r="6.1"/><circle cx="1268" cy="1028" r="6.1"/><circle cx="1290" cy="1036" r="6.1"/><circle cx="1305" cy="1022" r="6.1"/><circle cx="1314" cy="1036" r="6.1"/><circle cx="1200" cy="1030" r="6.1"/>
<g fill="none" stroke="#3366FF" stroke-width="5.2"><polyline points="1170,1056 1178,1050 1186,1045 1193,1040 1200,1036"/><polyline points="1225,1006 1232,999 1240,998 1246,1004 1250,1015"/><polyline points="1275,1045 1281,1035 1290,1028 1298,1028 1305,1030"/></g>
</g>
</g>

<!-- correlation text -->
<g>
<text class="cr" x="364.9" y="96.4">corr</text><text class="cr" x="364.9" y="134.6">0.78</text><text class="cr" x="364.9" y="172.5">(n=13)</text>
<text class="cr" x="540.7" y="96.4">corr</text><text class="cr" x="540.7" y="134.6">0.65</text><text class="cr" x="540.7" y="172.5">(n=13)</text>
<text class="cr" x="716.5" y="96.4">corr</text><text class="cr" x="716.5" y="134.6">0.67</text><text class="cr" x="716.5" y="172.5">(n=13)</text>
<text class="cr" x="892.3" y="96.4">corr</text><text class="cr" x="892.3" y="134.6">-0.80</text><text class="cr" x="892.3" y="172.5">(n=13)</text>
<text class="cr" x="1068.1" y="96.4">corr</text><text class="cr" x="1068.1" y="134.6">-0.36</text><text class="cr" x="1068.1" y="172.5">(n=13)</text>
<text class="cr" x="1243.9" y="96.4">corr</text><text class="cr" x="1243.9" y="134.6">0.66</text><text class="cr" x="1243.9" y="172.5">(n=13)</text>
<text class="cr" x="1419.7" y="96.4">corr</text><text class="cr" x="1419.7" y="134.6">0.21</text><text class="cr" x="1419.7" y="172.5">(n=13)</text>

<text class="cr" x="540.7" y="222.4">corr</text><text class="cr" x="540.7" y="260.6">0.61</text><text class="cr" x="540.7" y="298.5">(n=13)</text>
<text class="cr" x="716.5" y="222.4">corr</text><text class="cr" x="716.5" y="260.6">0.93</text><text class="cr" x="716.5" y="298.5">(n=13)</text>
<text class="cr" x="892.3" y="222.4">corr</text><text class="cr" x="892.3" y="260.6">-0.89</text><text class="cr" x="892.3" y="298.5">(n=13)</text>
<text class="cr" x="1068.1" y="222.4">corr</text><text class="cr" x="1068.1" y="260.6">-0.47</text><text class="cr" x="1068.1" y="298.5">(n=13)</text>
<text class="cr" x="1243.9" y="222.4">corr</text><text class="cr" x="1243.9" y="260.6">0.67</text><text class="cr" x="1243.9" y="298.5">(n=13)</text>
<text class="cr" x="1419.7" y="222.4">corr</text><text class="cr" x="1419.7" y="260.6">0.11</text><text class="cr" x="1419.7" y="298.5">(n=13)</text>

<text class="cr" x="716.5" y="348.4">corr</text><text class="cr" x="716.5" y="386.6">0.71</text><text class="cr" x="716.5" y="424.5">(n=13)</text>
<text class="cr" x="892.3" y="348.4">corr</text><text class="cr" x="892.3" y="386.6">-0.85</text><text class="cr" x="892.3" y="424.5">(n=13)</text>
<text class="cr" x="1068.1" y="348.4">corr</text><text class="cr" x="1068.1" y="386.6">-0.37</text><text class="cr" x="1068.1" y="424.5">(n=13)</text>
<text class="cr" x="1243.9" y="348.4">corr</text><text class="cr" x="1243.9" y="386.6">0.72</text><text class="cr" x="1243.9" y="424.5">(n=13)</text>
<text class="cr" x="1419.7" y="348.4">corr</text><text class="cr" x="1419.7" y="386.6">-0.44</text><text class="cr" x="1419.7" y="424.5">(n=13)</text>

<text class="cr" x="892.3" y="474.4">corr</text><text class="cr" x="892.3" y="512.6">-0.91</text><text class="cr" x="892.3" y="550.5">(n=13)</text>
<text class="cr" x="1068.1" y="474.4">corr</text><text class="cr" x="1068.1" y="512.6">-0.42</text><text class="cr" x="1068.1" y="550.5">(n=13)</text>
<text class="cr" x="1243.9" y="474.4">corr</text><text class="cr" x="1243.9" y="512.6">0.71</text><text class="cr" x="1243.9" y="550.5">(n=13)</text>
<text class="cr" x="1419.7" y="474.4">corr</text><text class="cr" x="1419.7" y="512.6">-0.09</text><text class="cr" x="1419.7" y="550.5">(n=13)</text>

<text class="cr" x="1068.1" y="600.4">corr</text><text class="cr" x="1068.1" y="638.6">0.53</text><text class="cr" x="1068.1" y="676.5">(n=13)</text>
<text class="cr" x="1243.9" y="600.4">corr</text><text class="cr" x="1243.9" y="638.6">-0.72</text><text class="cr" x="1243.9" y="676.5">(n=13)</text>
<text class="cr" x="1419.7" y="600.4">corr</text><text class="cr" x="1419.7" y="638.6">0.20</text><text class="cr" x="1419.7" y="676.5">(n=13)</text>

<text class="cr" x="1243.9" y="726.4">corr</text><text class="cr" x="1243.9" y="764.6">-0.03</text><text class="cr" x="1243.9" y="802.5">(n=13)</text>
<text class="cr" x="1419.7" y="726.4">corr</text><text class="cr" x="1419.7" y="764.6">0.38</text><text class="cr" x="1419.7" y="802.5">(n=13)</text>

<text class="cr" x="1419.7" y="852.4">corr</text><text class="cr" x="1419.7" y="890.6">0.03</text><text class="cr" x="1419.7" y="928.5">(n=13)</text>
</g>

<!-- white outside panels to crop overflowing text -->
<g fill="#fff">
<rect x="0" y="178.9" width="1568" height="0.9"/>
</g>

<!-- panel borders -->
<g class="pb">
<rect x="110.5" y="70.7" width="157.2" height="108.2"/><rect x="286.3" y="70.7" width="157.2" height="108.2"/><rect x="462.1" y="70.7" width="157.2" height="108.2"/><rect x="637.9" y="70.7" width="157.2" height="108.2"/><rect x="813.7" y="70.7" width="157.2" height="108.2"/><rect x="989.5" y="70.7" width="157.2" height="108.2"/><rect x="1165.3" y="70.7" width="157.2" height="108.2"/><rect x="1341.1" y="70.7" width="157.2" height="108.2"/>
<rect x="110.5" y="196.7" width="157.2" height="108.2"/><rect x="286.3" y="196.7" width="157.2" height="108.2"/><rect x="462.1" y="196.7" width="157.2" height="108.2"/><rect x="637.9" y="196.7" width="157.2" height="108.2"/><rect x="813.7" y="196.7" width="157.2" height="108.2"/><rect x="989.5" y="196.7" width="157.2" height="108.2"/><rect x="1165.3" y="196.7" width="157.2" height="108.2"/><rect x="1341.1" y="196.7" width="157.2" height="108.2"/>
<rect x="110.5" y="322.7" width="157.2" height="108.2"/><rect x="286.3" y="322.7" width="157.2" height="108.2"/><rect x="462.1" y="322.7" width="157.2" height="108.2"/><rect x="637.9" y="322.7" width="157.2" height="108.2"/><rect x="813.7" y="322.7" width="157.2" height="108.2"/><rect x="989.5" y="322.7" width="157.2" height="108.2"/><rect x="1165.3" y="322.7" width="157.2" height="108.2"/><rect x="1341.1" y="322.7" width="157.2" height="108.2"/>
<rect x="110.5" y="448.7" width="157.2" height="108.2"/><rect x="286.3" y="448.7" width="157.2" height="108.2"/><rect x="462.1" y="448.7" width="157.2" height="108.2"/><rect x="637.9" y="448.7" width="157.2" height="108.2"/><rect x="813.7" y="448.7" width="157.2" height="108.2"/><rect x="989.5" y="448.7" width="157.2" height="108.2"/><rect x="1165.3" y="448.7" width="157.2" height="108.2"/><rect x="1341.1" y="448.7" width="157.2" height="108.2"/>
<rect x="110.5" y="574.7" width="157.2" height="108.2"/><rect x="286.3" y="574.7" width="157.2" height="108.2"/><rect x="462.1" y="574.7" width="157.2" height="108.2"/><rect x="637.9" y="574.7" width="157.2" height="108.2"/><rect x="813.7" y="574.7" width="157.2" height="108.2"/><rect x="989.5" y="574.7" width="157.2" height="108.2"/><rect x="1165.3" y="574.7" width="157.2" height="108.2"/><rect x="1341.1" y="574.7" width="157.2" height="108.2"/>
<rect x="110.5" y="700.7" width="157.2" height="108.2"/><rect x="286.3" y="700.7" width="157.2" height="108.2"/><rect x="462.1" y="700.7" width="157.2" height="108.2"/><rect x="637.9" y="700.7" width="157.2" height="108.2"/><rect x="813.7" y="700.7" width="157.2" height="108.2"/><rect x="989.5" y="700.7" width="157.2" height="108.2"/><rect x="1165.3" y="700.7" width="157.2" height="108.2"/><rect x="1341.1" y="700.7" width="157.2" height="108.2"/>
<rect x="110.5" y="826.7" width="157.2" height="108.2"/><rect x="286.3" y="826.7" width="157.2" height="108.2"/><rect x="462.1" y="826.7" width="157.2" height="108.2"/><rect x="637.9" y="826.7" width="157.2" height="108.2"/><rect x="813.7" y="826.7" width="157.2" height="108.2"/><rect x="989.5" y="826.7" width="157.2" height="108.2"/><rect x="1165.3" y="826.7" width="157.2" height="108.2"/><rect x="1341.1" y="826.7" width="157.2" height="108.2"/>
<rect x="110.5" y="952.7" width="157.2" height="108.2"/><rect x="286.3" y="952.7" width="157.2" height="108.2"/><rect x="462.1" y="952.7" width="157.2" height="108.2"/><rect x="637.9" y="952.7" width="157.2" height="108.2"/><rect x="813.7" y="952.7" width="157.2" height="108.2"/><rect x="989.5" y="952.7" width="157.2" height="108.2"/><rect x="1165.3" y="952.7" width="157.2" height="108.2"/><rect x="1341.1" y="952.7" width="157.2" height="108.2"/>
</g>

<!-- top strips -->
<g>
<rect class="sp" x="110.5" y="17.1" width="157.2" height="53.6"/><rect class="sp" x="286.3" y="17.1" width="157.2" height="53.6"/><rect class="sp" x="462.1" y="17.1" width="157.2" height="53.6"/><rect class="sp" x="637.9" y="17.1" width="157.2" height="53.6"/><rect class="sp" x="813.7" y="17.1" width="157.2" height="53.6"/><rect class="sp" x="989.5" y="17.1" width="157.2" height="53.6"/><rect class="sp" x="1165.3" y="17.1" width="157.2" height="53.6"/><rect class="sp" x="1341.1" y="17.1" width="157.2" height="53.6"/>
<g class="st" text-anchor="middle">
<text x="189.1" y="53.2">CLC</text><text x="364.9" y="53.2">CLT</text><text x="540.7" y="53.2">V1C</text><text x="716.5" y="53.2">V1T</text><text x="892.3" y="53.2">QC</text><text x="1068.1" y="53.2">QT</text><text x="1243.9" y="53.2">V2C</text><text x="1419.7" y="53.2">V2T</text>
</g>
</g>
<!-- right strips -->
<g>
<rect class="sp" x="1498.3" y="70.7" width="52.3" height="108.2"/><rect class="sp" x="1498.3" y="196.7" width="52.3" height="108.2"/><rect class="sp" x="1498.3" y="322.7" width="52.3" height="108.2"/><rect class="sp" x="1498.3" y="448.7" width="52.3" height="108.2"/><rect class="sp" x="1498.3" y="574.7" width="52.3" height="108.2"/><rect class="sp" x="1498.3" y="700.7" width="52.3" height="108.2"/><rect class="sp" x="1498.3" y="826.7" width="52.3" height="108.2"/><rect class="sp" x="1498.3" y="952.7" width="52.3" height="108.2"/>
<g class="st" text-anchor="middle">
<text transform="translate(1524.4,124.8) rotate(90)" y="9.3">CLC</text>
<text transform="translate(1524.4,250.8) rotate(90)" y="9.3">CLT</text>
<text transform="translate(1524.4,376.8) rotate(90)" y="9.3">V1C</text>
<text transform="translate(1524.4,502.8) rotate(90)" y="9.3">V1T</text>
<text transform="translate(1524.4,628.8) rotate(90)" y="9.3">QC</text>
<text transform="translate(1524.4,754.8) rotate(90)" y="9.3">QT</text>
<text transform="translate(1524.4,880.8) rotate(90)" y="9.3">V2C</text>
<text transform="translate(1524.4,1006.8) rotate(90)" y="9.3">V2T</text>
</g>
</g>

<!-- y axis ticks -->
<g class="tk">
<line x1="101.5" y1="74.8" x2="110.5" y2="74.8"/><line x1="101.5" y1="99.6" x2="110.5" y2="99.6"/><line x1="101.5" y1="124.4" x2="110.5" y2="124.4"/><line x1="101.5" y1="149.2" x2="110.5" y2="149.2"/><line x1="101.5" y1="174" x2="110.5" y2="174"/>
<line x1="101.5" y1="199" x2="110.5" y2="199"/><line x1="101.5" y1="229.3" x2="110.5" y2="229.3"/><line x1="101.5" y1="260" x2="110.5" y2="260"/><line x1="101.5" y1="290.3" x2="110.5" y2="290.3"/>
<line x1="101.5" y1="340" x2="110.5" y2="340"/><line x1="101.5" y1="358" x2="110.5" y2="358"/><line x1="101.5" y1="376" x2="110.5" y2="376"/><line x1="101.5" y1="394.3" x2="110.5" y2="394.3"/><line x1="101.5" y1="412.3" x2="110.5" y2="412.3"/><line x1="101.5" y1="430.3" x2="110.5" y2="430.3"/>
<line x1="101.5" y1="453.7" x2="110.5" y2="453.7"/><line x1="101.5" y1="486" x2="110.5" y2="486"/><line x1="101.5" y1="518" x2="110.5" y2="518"/><line x1="101.5" y1="549.4" x2="110.5" y2="549.4"/>
<line x1="101.5" y1="577" x2="110.5" y2="577"/><line x1="101.5" y1="597.9" x2="110.5" y2="597.9"/><line x1="101.5" y1="619" x2="110.5" y2="619"/><line x1="101.5" y1="639.9" x2="110.5" y2="639.9"/><line x1="101.5" y1="660.8" x2="110.5" y2="660.8"/><line x1="101.5" y1="681.6" x2="110.5" y2="681.6"/>
<line x1="101.5" y1="709.6" x2="110.5" y2="709.6"/><line x1="101.5" y1="731.6" x2="110.5" y2="731.6"/><line x1="101.5" y1="753.3" x2="110.5" y2="753.3"/><line x1="101.5" y1="775" x2="110.5" y2="775"/><line x1="101.5" y1="796.8" x2="110.5" y2="796.8"/>
<line x1="101.5" y1="842.2" x2="110.5" y2="842.2"/><line x1="101.5" y1="859.6" x2="110.5" y2="859.6"/><line x1="101.5" y1="877" x2="110.5" y2="877"/><line x1="101.5" y1="894.5" x2="110.5" y2="894.5"/><line x1="101.5" y1="911.9" x2="110.5" y2="911.9"/><line x1="101.5" y1="929.3" x2="110.5" y2="929.3"/>
<line x1="101.5" y1="970.1" x2="110.5" y2="970.1"/><line x1="101.5" y1="998.7" x2="110.5" y2="998.7"/><line x1="101.5" y1="1027.1" x2="110.5" y2="1027.1"/><line x1="101.5" y1="1055.9" x2="110.5" y2="1055.9"/>
</g>
<g class="tl" text-anchor="end">
<text x="93" y="84.1">2.0</text><text x="93" y="108.9">1.5</text><text x="93" y="133.7">1.0</text><text x="93" y="158.5">0.5</text><text x="93" y="183.3">0.0</text>
<text x="93" y="208.3">1.0</text><text x="93" y="238.6">0.5</text><text x="93" y="269.3">0.0</text><text x="93" y="299.6">-0.5</text>
<text x="93" y="349.3">0.6</text><text x="93" y="367.3">0.4</text><text x="93" y="385.3">0.2</text><text x="93" y="403.6">0.0</text><text x="93" y="421.6">-0.2</text><text x="93" y="439.6">-0.4</text>
<text x="93" y="463">1.0</text><text x="93" y="495.3">0.5</text><text x="93" y="527.3">0.0</text><text x="93" y="558.7">-0.5</text>
<text x="93" y="586.3">0.050</text><text x="93" y="607.2">0.025</text><text x="93" y="628.3">0.000</text><text x="93" y="649.2">-0.025</text><text x="93" y="670.1">-0.050</text><text x="93" y="690.9">-0.075</text>
<text x="93" y="718.9">0.04</text><text x="93" y="740.9">0.03</text><text x="93" y="762.6">0.02</text><text x="93" y="784.3">0.01</text><text x="93" y="806.1">0.00</text>
<text x="93" y="851.5">0.10</text><text x="93" y="868.9">0.05</text><text x="93" y="886.3">0.00</text><text x="93" y="903.8">-0.05</text><text x="93" y="921.2">-0.10</text><text x="93" y="938.6">-0.15</text>
<text x="93" y="979.4">0.2</text><text x="93" y="1008">0.1</text><text x="93" y="1036.4">0.0</text><text x="93" y="1065.2">-0.1</text>
</g>

<!-- x axis ticks -->
<g class="tk">
<line x1="141" y1="1061" x2="141" y2="1069.6"/><line x1="180" y1="1061" x2="180" y2="1069.6"/><line x1="219" y1="1061" x2="219" y2="1069.6"/><line x1="258" y1="1061" x2="258" y2="1069.6"/>
<line x1="307" y1="1061" x2="307" y2="1069.6"/><line x1="351" y1="1061" x2="351" y2="1069.6"/><line x1="396" y1="1061" x2="396" y2="1069.6"/><line x1="440" y1="1061" x2="440" y2="1069.6"/>
<line x1="462.5" y1="1061" x2="462.5" y2="1069.6"/><line x1="488" y1="1061" x2="488" y2="1069.6"/><line x1="514.6" y1="1061" x2="514.6" y2="1069.6"/><line x1="540.8" y1="1061" x2="540.8" y2="1069.6"/><line x1="567" y1="1061" x2="567" y2="1069.6"/><line x1="593.6" y1="1061" x2="593.6" y2="1069.6"/>
<line x1="646.7" y1="1061" x2="646.7" y2="1069.6"/><line x1="693.1" y1="1061" x2="693.1" y2="1069.6"/><line x1="740.3" y1="1061" x2="740.3" y2="1069.6"/><line x1="787.2" y1="1061" x2="787.2" y2="1069.6"/>
<line x1="814.5" y1="1061" x2="814.5" y2="1069.6"/><line x1="844.2" y1="1061" x2="844.2" y2="1069.6"/><line x1="874.4" y1="1061" x2="874.4" y2="1069.6"/><line x1="904.9" y1="1061" x2="904.9" y2="1069.6"/><line x1="934.9" y1="1061" x2="934.9" y2="1069.6"/><line x1="965.6" y1="1061" x2="965.6" y2="1069.6"/>
<line x1="1005.4" y1="1061" x2="1005.4" y2="1069.6"/><line x1="1037" y1="1061" x2="1037" y2="1069.6"/><line x1="1068.7" y1="1061" x2="1068.7" y2="1069.6"/><line x1="1100.1" y1="1061" x2="1100.1" y2="1069.6"/><line x1="1132.3" y1="1061" x2="1132.3" y2="1069.6"/>
<line x1="1171" y1="1061" x2="1171" y2="1069.6"/><line x1="1197" y1="1061" x2="1197" y2="1069.6"/><line x1="1223" y1="1061" x2="1223" y2="1069.6"/><line x1="1248" y1="1061" x2="1248" y2="1069.6"/><line x1="1274" y1="1061" x2="1274" y2="1069.6"/><line x1="1299" y1="1061" x2="1299" y2="1069.6"/>
<line x1="1350.8" y1="1061" x2="1350.8" y2="1069.6"/><line x1="1389.6" y1="1061" x2="1389.6" y2="1069.6"/><line x1="1428.4" y1="1061" x2="1428.4" y2="1069.6"/><line x1="1467.3" y1="1061" x2="1467.3" y2="1069.6"/>
</g>
<g class="tl" text-anchor="middle">
<text x="141" y="1097">-0.5</text><text x="180" y="1097">0.0</text><text x="219" y="1097">0.5</text><text x="258" y="1097">1.0</text>
<text x="307" y="1097">-0.5</text><text x="351" y="1097">0.0</text><text x="396" y="1097">0.5</text><text x="440" y="1097">1.0</text>
<text x="462.5" y="1097">-0.4</text><text x="488" y="1097">-0.2</text><text x="514.6" y="1097">0.0</text><text x="540.8" y="1097">0.2</text><text x="567" y="1097">0.4</text><text x="593.6" y="1097">0.6</text>
<text x="646.7" y="1097">-0.5</text><text x="693.1" y="1097">0.0</text><text x="740.3" y="1097">0.5</text><text x="787.2" y="1097">1.0</text>
<text x="814.5" y="1097">-0.075</text><text x="844.2" y="1097">-0.050</text><text x="874.4" y="1097">-0.025</text><text x="904.9" y="1097">0.000</text><text x="934.9" y="1097">0.025</text><text x="965.6" y="1097">0.050</text>
<text x="1005.4" y="1097">0.00</text><text x="1037" y="1097">0.01</text><text x="1068.7" y="1097">0.02</text><text x="1100.1" y="1097">0.03</text><text x="1132.3" y="1097">0.04</text>
<text x="1171" y="1097">-0.15</text><text x="1197" y="1097">-0.10</text><text x="1223" y="1097">-0.05</text><text x="1248" y="1097">0.00</text><text x="1274" y="1097">0.05</text><text x="1299" y="1097">0.10</text>
<text x="1350.8" y="1097">-0.1</text><text x="1389.6" y="1097">0.0</text><text x="1428.4" y="1097">0.1</text><text x="1467.3" y="1097">0.2</text>
</g>
</svg>
</body></html>
